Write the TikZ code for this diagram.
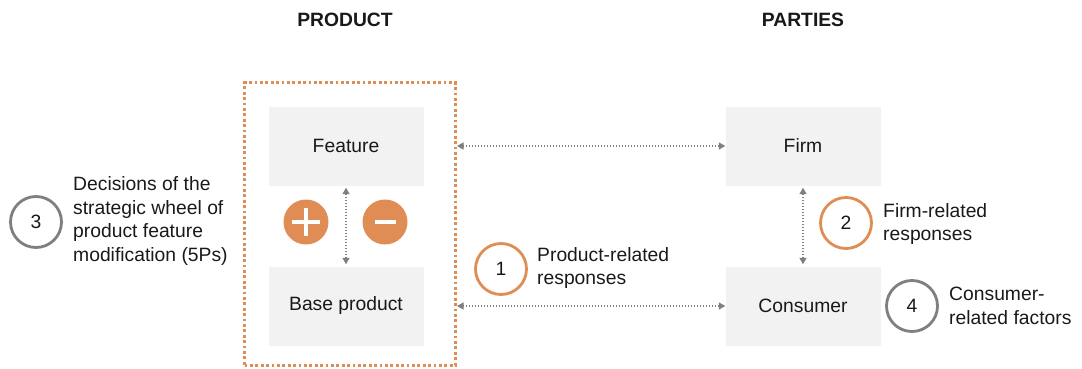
\documentclass[tikz,border=0pt]{standalone}
\usepackage{fontspec}
\setmainfont{Liberation Sans}
\usetikzlibrary{arrows.meta,calc}
\definecolor{orng}{HTML}{E08D55}
\definecolor{gline}{HTML}{7F7F7F}
\definecolor{boxfill}{HTML}{F2F2F2}
\begin{document}
\begin{tikzpicture}[x=1pt,y=-1pt,
  txt/.style={font=\fontsize{19.3}{23.8}\selectfont, text=black!90},
  graybox/.style={txt, fill=boxfill, draw=none, minimum width=155pt, minimum height=79pt, inner sep=0pt},
  conn/.style={draw=gline, line width=1.3pt, dash pattern=on 1.3pt off 1.7pt, {Triangle[length=6.5pt,width=7pt]}-{Triangle[length=6.5pt,width=7pt]}},
  ring/.style={circle, draw=#1, line width=2.8pt, fill=white, minimum size=51pt, inner sep=0pt, txt},
  lbl/.style={txt, anchor=west, align=left, inner sep=0pt},
  sign/.style={circle, fill=orng, minimum size=45pt, inner sep=0pt}
]
\useasboundingbox (0,0) rectangle (1082,369);

% titles
\node[txt, font=\fontsize{19.3}{23.8}\selectfont\bfseries] (ttlprod) at (345,20) {PRODUCT};
\node[txt, font=\fontsize{19.3}{23.8}\selectfont\bfseries] (ttlpart) at (803,20) {PARTIES};

% product frame
\node[draw=orng, line width=3pt, dash pattern=on 2.8pt off 2.6pt, minimum width=211pt, minimum height=282pt, inner sep=0pt] (frame) at (350,224) {};

% boxes
\node[graybox] (feature) at (346,146) {Feature};
\node[graybox] (base) at (346,306) {Base product};
\node[graybox] (firm) at (803,146) {Firm};
\node[graybox] (consumer) at (803,306) {Consumer};

% plus / minus
\node[sign] (plus) at (306,222) {};
\draw[white, line width=4.2pt] ($(plus.center)+(-14,0)$) -- ($(plus.center)+(14,0)$);
\draw[white, line width=4.2pt] ($(plus.center)+(0,-14)$) -- ($(plus.center)+(0,14)$);
\node[sign] (minus) at (385,222) {};
\draw[white, line width=4.2pt] ($(minus.center)+(-10.5,0)$) -- ($(minus.center)+(10.5,0)$);

% connectors
\draw[conn] ($(feature.south)+(0,2)$) -- ($(base.north)+(0,-2)$);
\draw[conn] (frame.east |- feature.east) -- (firm.west);
\draw[conn] (frame.east |- base.east) -- (consumer.west);
\draw[conn] ($(firm.south)+(0,2)$) -- ($(consumer.north)+(0,-2)$);

% numbered rings
\node[ring=gline] (c3) at (36,222) {3};
\node[lbl] (l3) at (73,221) {Decisions of the\\strategic wheel of\\product feature\\modification (5Ps)};

\node[ring=orng] (c1) at (501,269) {1};
\node[lbl] (l1) at (537,268) {Product-related\\responses};

\node[ring=orng] (c2) at (846,223) {2};
\node[lbl] (l2) at (883,224) {Firm-related\\responses};

\node[ring=gline] (c4) at (912,306) {4};
\node[lbl] (l4) at (949,306) {Consumer-\\related factors};
\end{tikzpicture}
\end{document}
